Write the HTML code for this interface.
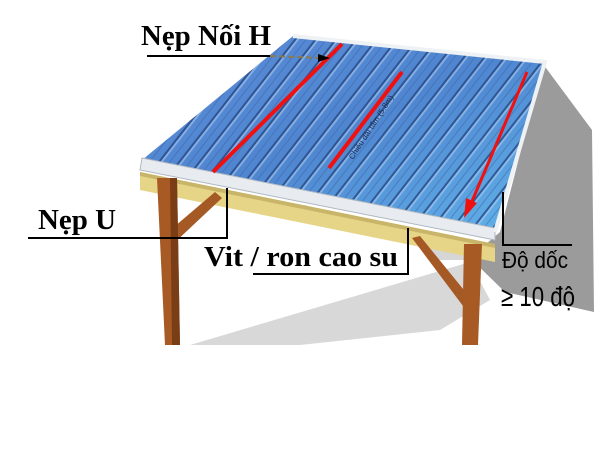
<!DOCTYPE html>
<html><head><meta charset="utf-8"><style>
html,body{margin:0;padding:0;background:#fff;width:600px;height:463px;overflow:hidden}
svg{display:block}
.s{font-family:"Liberation Serif",serif;font-weight:bold}
</style></head><body>
<svg width="600" height="463" viewBox="0 0 600 463">
<defs>
<linearGradient id="rf" x1="0" y1="0" x2="1" y2="1">
<stop offset="0" stop-color="#5a8ad6"/><stop offset="0.5" stop-color="#4f86d0"/><stop offset="1" stop-color="#62b4ea"/>
</linearGradient>
<pattern id="rib" patternUnits="userSpaceOnUse" width="16" height="300" patternTransform="rotate(38)">
<rect x="0" width="2" height="300" fill="#23427e" opacity="0.75"/>
<rect x="2" width="2" height="300" fill="#b8d4f4" opacity="0.5"/>
<rect x="9" width="1" height="300" fill="#3a62a8" opacity="0.5"/>
</pattern>
</defs>
<polygon points="543,64 592,130 594,312 505,292 470,258 500,232" fill="#9b9b9b"/>
<polygon points="190,345 470,262 490,300 440,330 300,345" fill="#c8c8c8" opacity="0.7"/>
<rect x="262" y="205" width="45" height="10" fill="#e0e0e0"/>
<rect x="430" y="240" width="40" height="20" fill="#d6d6d6"/>
<polygon points="140,172 495,244 495,262 140,190" fill="#e6d586"/>
<polygon points="140,172 495,244 495,248 140,176" fill="#c9b56a"/>
<polygon points="168,232 215,192 222,198 172,245" fill="#a55a26"/>
<polygon points="412,238 420,236 472,300 466,310" fill="#a55a26"/>
<polygon points="157,178 177,178 180,345 165,345" fill="#a85a25"/>
<polygon points="170,178 177,178 180,345 172,345" fill="#7a3e16"/>
<polygon points="464,244 482,244 478,345 462,345" fill="#a85a25"/>
<polygon points="293,36 545,62 495,232 142,160" fill="url(#rf)"/>
<polygon points="293,36 545,62 495,232 142,160" fill="url(#rib)"/>
<polygon points="142,158 495,228 495,240 140,170" fill="#e8ecf0" stroke="#b0b8c0" stroke-width="1"/>
<polyline points="293,36 545,62 495,232" fill="none" stroke="#eef2f5" stroke-width="4"/>
<line x1="342" y1="44" x2="213" y2="172" stroke="#f01010" stroke-width="4"/>
<line x1="402" y1="72" x2="329" y2="168" stroke="#f01010" stroke-width="4"/>
<line x1="527" y1="72" x2="470" y2="206" stroke="#f01010" stroke-width="3"/>
<polygon points="464,218 466,198 477,203" fill="#f01010"/>
<text x="0" y="0" transform="translate(353,160) rotate(-57)" font-family="Liberation Sans,sans-serif" font-size="8" fill="#1a2a50">Chiều dài tấm (5.8m)</text>
<text class="s" x="141" y="45" font-size="28" textLength="130" lengthAdjust="spacingAndGlyphs">Nẹp Nối H</text>
<line x1="147" y1="56" x2="270" y2="56" stroke="#000" stroke-width="2"/>
<line x1="270" y1="56" x2="322" y2="58" stroke="#8a7a50" stroke-width="2" stroke-dasharray="6,3"/>
<polygon points="318,54 330,58 318,62" fill="#000"/>
<text class="s" x="38" y="229" font-size="29" textLength="78" lengthAdjust="spacingAndGlyphs">Nẹp U</text>
<polyline points="28,238 227,238 227,188" fill="none" stroke="#000" stroke-width="2"/>
<text class="s" x="204" y="266" font-size="29" textLength="194" lengthAdjust="spacingAndGlyphs">Vit / ron cao su</text>
<polyline points="253,274 408,274 408,228" fill="none" stroke="#000" stroke-width="2"/>
<polyline points="503,192 503,245 572,245" fill="none" stroke="#000" stroke-width="2"/>
<text x="502" y="268" font-family="Liberation Sans,sans-serif" font-size="23" textLength="66" lengthAdjust="spacingAndGlyphs">Độ dốc</text>
<text x="501" y="306" font-family="Liberation Sans,sans-serif" font-size="28" textLength="74" lengthAdjust="spacingAndGlyphs">≥ 10 độ</text>
</svg>
</body></html>
